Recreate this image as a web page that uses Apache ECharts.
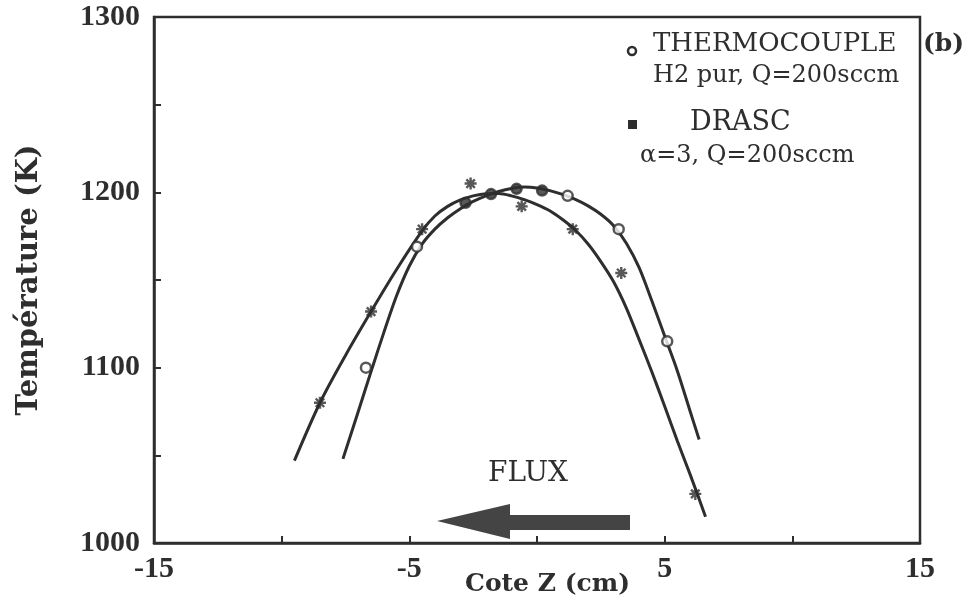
<!DOCTYPE html>
<html>
<head>
<meta charset="utf-8">
<script src="https://cdn.jsdelivr.net/npm/echarts@6/dist/echarts.min.js"></script>
<style>
  html, body { margin: 0; padding: 0; background: #fff; }
  #chart { width: 976px; height: 610px; }
</style>
</head>
<body>
<div id="chart"></div>
<script>
// Axial temperature profile along the reactor (position Z in cm, temperature in K)

// Thermocouple measurements (H2 pur, Q=200sccm)
const thermoZ = [-6.7, -4.7, -2.8, -1.8, -0.8, 0.2, 1.2, 3.2, 5.1];
const thermoT = [1100, 1169, 1194, 1199, 1202, 1201, 1198, 1179, 1115];

// DRASC measurements (alpha=3, Q=200sccm)
const drascZ = [-8.5, -6.5, -4.5, -2.6, -0.6, 1.4, 3.3, 6.2];
const drascT = [1080, 1132, 1179, 1205, 1192, 1179, 1154, 1028];

// Smoothed fit through the thermocouple profile
const fitThermoZ = [-7.6, -7, -6.45, -6, -5.5, -5, -4.5, -4, -3.5, -3, -2.5, -2, -1.5, -1, -0.5,
  0, 0.5, 1, 1.5, 2, 2.5, 3, 3.5, 4, 4.5, 5, 5.5, 6, 6.35];
const fitThermoT = [1048, 1075, 1100, 1120, 1141, 1158, 1170.5, 1179, 1185.5, 1190.7, 1194.8, 1198, 1200.5, 1202.2, 1203,
  1202.5, 1201, 1198.8, 1196, 1192.3, 1187.5, 1181, 1171, 1157, 1138, 1118, 1098, 1075, 1059];

// Smoothed fit through the DRASC profile
const fitDrascZ = [-9.5, -8.5, -7.5, -6.5, -5.5, -4.5, -4, -3.5, -3, -2.5, -2, -1.5, -1, -0.5,
  0, 0.5, 1, 1.5, 2, 2.5, 3, 3.5, 4, 4.5, 5, 5.5, 6, 6.6];
const fitDrascT = [1047, 1080, 1107, 1132, 1156, 1178, 1186.5, 1192, 1195.7, 1198, 1199.2, 1199.3, 1198, 1195.8,
  1193, 1189.5, 1184.5, 1178.5, 1170.5, 1160.5, 1149, 1134, 1116, 1097.5, 1078, 1058, 1039, 1015];

// Axis tick labels
const xTickLabels = [-15, -5, 5, 15];
const yTickLabels = [1000, 1100, 1200, 1300];

// Thermocouple points that are drawn solid (clustered around the maximum)
const solidThermoIdx = [2, 3, 4, 5];

const zip = (a, b) => a.map((v, i) => [v, b[i]]);

const INK = '#2e2e2e';
const SERIF = '"DejaVu Serif", "Liberation Serif", serif';
const TICKFONT = '"Liberation Serif", "DejaVu Serif", serif';

// Eight-spoke asterisk marker
const ASTERISK = 'path://M-1,-5 L1,-5 L1,5 L-1,5 Z M-5,-1 L5,-1 L5,1 L-5,1 Z ' +
  'M-4.24,-2.83 L-2.83,-4.24 L4.24,2.83 L2.83,4.24 Z ' +
  'M-2.83,4.24 L-4.24,2.83 L2.83,-4.24 L4.24,-2.83 Z';

const chart = echarts.init(document.getElementById('chart'), null, { renderer: 'canvas' });

const textEl = (text, x, y, font, align) => ({
  type: 'text', z: 10,
  style: { text, x, y, font: font + ' ' + SERIF, fill: INK, align: align || 'left', verticalAlign: 'middle' }
});

chart.setOption({
  animation: false,
  backgroundColor: '#fff',
  grid: {
    left: 154, right: 56, top: 17, bottom: 67,
    show: true, borderColor: INK, borderWidth: 2.5, backgroundColor: 'transparent'
  },
  xAxis: {
    type: 'value', min: -15, max: 15, interval: 5,
    name: 'Cote Z (cm)', nameLocation: 'middle', nameGap: 29, nameMoveOverlap: false,
    nameTextStyle: { fontFamily: SERIF, fontSize: 25, fontWeight: 'bold', color: INK, padding: [0, 0, 0, 21] },
    axisLine: { onZero: false, lineStyle: { color: INK, width: 2.5 } },
    axisTick: { inside: true, length: 7, lineStyle: { color: INK, width: 2 } },
    splitLine: { show: false },
    axisLabel: {
      margin: 11, color: INK, fontFamily: TICKFONT, fontSize: 30, fontWeight: 'bold',
      formatter: v => (xTickLabels.includes(v) ? String(v) : '')
    }
  },
  yAxis: {
    type: 'value', min: 1000, max: 1300, interval: 50,
    name: 'Température (K)', nameLocation: 'middle', nameGap: 110, nameMoveOverlap: false,
    nameTextStyle: { fontFamily: SERIF, fontSize: 29, fontWeight: 'bold', color: INK },
    axisLine: { onZero: false, lineStyle: { color: INK, width: 2.5 } },
    axisTick: { inside: true, length: 7, lineStyle: { color: INK, width: 2 } },
    splitLine: { show: false },
    axisLabel: {
      margin: 14, color: INK, fontFamily: TICKFONT, fontSize: 30, fontWeight: 'bold',
      formatter: v => (yTickLabels.includes(v) ? String(v) : '')
    }
  },
  series: [
    {
      name: 'fit-thermocouple', type: 'line', smooth: 0.3, showSymbol: false,
      data: zip(fitThermoZ, fitThermoT),
      lineStyle: { color: INK, width: 3 }, z: 2
    },
    {
      name: 'fit-drasc', type: 'line', smooth: 0.3, showSymbol: false,
      data: zip(fitDrascZ, fitDrascT),
      lineStyle: { color: INK, width: 3 }, z: 2
    },
    {
      name: 'THERMOCOUPLE', type: 'scatter', symbol: 'circle', symbolSize: 10,
      data: zip(thermoZ, thermoT),
      itemStyle: {
        color: p => (solidThermoIdx.includes(p.dataIndex) ? INK : '#fff'),
        borderColor: INK, borderWidth: 2.5
      },
      z: 3
    },
    {
      name: 'DRASC', type: 'scatter', symbol: ASTERISK, symbolSize: 12,
      data: zip(drascZ, drascT),
      itemStyle: { color: INK },
      z: 3
    }
  ],
  graphic: [
    // legend
    { type: 'circle', z: 10, shape: { cx: 632, cy: 51, r: 4 }, style: { fill: '#fff', stroke: INK, lineWidth: 2.5 } },
    textEl('THERMOCOUPLE', 653, 44, '26px'),
    textEl('H2 pur, Q=200sccm', 653, 76, '24px'),
    { type: 'rect', z: 10, shape: { x: 628, y: 120, width: 9, height: 9 }, style: { fill: INK } },
    textEl('DRASC', 690, 123, '27px'),
    textEl('α=3, Q=200sccm', 640, 156, '24px'),
    // panel tag
    textEl('(b)', 923, 44, 'bold 25px'),
    // flow direction
    textEl('FLUX', 528, 474, '28px', 'center'),
    {
      type: 'polygon', z: 10,
      shape: { points: [[630, 515], [510, 515], [510, 504], [437, 521], [510, 539], [510, 530], [630, 530]] },
      style: { fill: '#444' }
    }
  ]
});
</script>
</body>
</html>
